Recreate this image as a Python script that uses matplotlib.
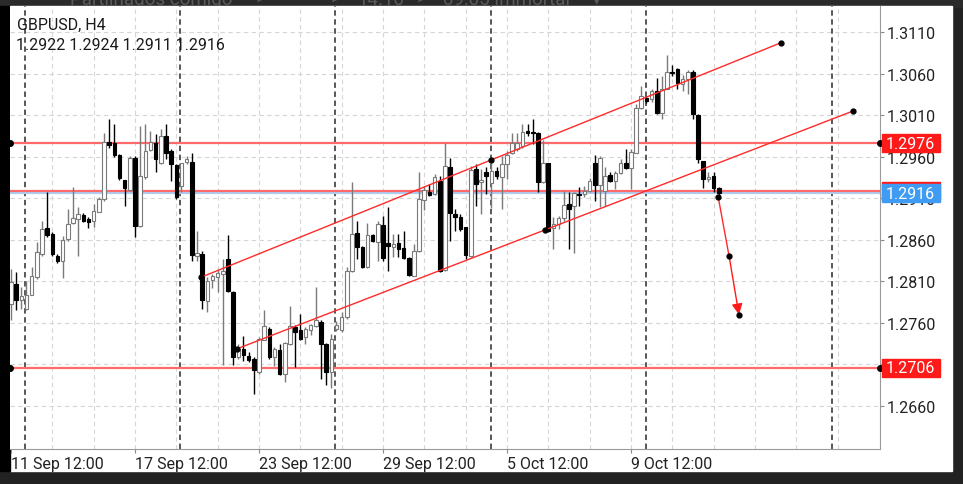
import matplotlib
matplotlib.use("Agg")
import matplotlib.pyplot as plt
import matplotlib.transforms as mtransforms
from matplotlib.patches import Rectangle

plt.rcParams['font.family'] = ['Roboto', 'DejaVu Sans']

# H4 candles (bar 0 = 11 Sep 12:00)
opens = [1.2783, 1.2807, 1.2787, 1.2777, 1.2794, 1.2815, 1.2843, 1.2874, 1.2867, 1.2841,
         1.2835, 1.2861, 1.2880, 1.2885, 1.2890, 1.2885, 1.2883, 1.2894, 1.2909, 1.2978,
         1.2976, 1.2962, 1.2932, 1.2920, 1.2959, 1.2877, 1.2935, 1.2968, 1.2977, 1.2953,
         1.2985, 1.2967, 1.2950, 1.2925, 1.2954, 1.2954, 1.2841, 1.2843, 1.2786, 1.2812,
         1.2815, 1.2819, 1.2837, 1.2797, 1.2719, 1.2729, 1.2720, 1.2716, 1.2701, 1.2740,
         1.2753, 1.2719, 1.2727, 1.2699, 1.2735, 1.2755, 1.2751, 1.2743, 1.2752, 1.2756,
         1.2761, 1.2735, 1.2701, 1.2753, 1.2751, 1.2767, 1.2823, 1.2868, 1.2851, 1.2827,
         1.2866, 1.2857, 1.2878, 1.2856, 1.2851, 1.2856, 1.2850, 1.2838, 1.2817, 1.2847,
         1.2908, 1.2917, 1.2915, 1.2931, 1.2824, 1.2948, 1.2891, 1.2888, 1.2875, 1.2841,
         1.2945, 1.2929, 1.2941, 1.2928, 1.2943, 1.2935, 1.2951, 1.2965, 1.2969, 1.2973,
         1.2991, 1.2990, 1.2989, 1.2930, 1.2953, 1.2874, 1.2879, 1.2886, 1.2903, 1.2901,
         1.2915, 1.2915, 1.2919, 1.2953, 1.2926, 1.2919, 1.2938, 1.2931, 1.2940, 1.2953,
         1.2946, 1.2965, 1.3018, 1.3031, 1.3029, 1.3039, 1.3013, 1.3042, 1.3062, 1.3066,
         1.3048, 1.3053, 1.3062, 1.3010, 1.2955, 1.2933, 1.2937, 1.2922]
highs = [1.2825, 1.2821, 1.2803, 1.2811, 1.2827, 1.2857, 1.2883, 1.2918, 1.2869, 1.2843,
         1.2865, 1.2897, 1.2924, 1.2899, 1.2892, 1.2888, 1.2903, 1.2912, 1.2988, 1.3005,
         1.2999, 1.2963, 1.2932, 1.2961, 1.2961, 1.2997, 1.2999, 1.2991, 1.2987, 1.2993,
         1.2999, 1.2969, 1.2951, 1.2953, 1.2961, 1.2965, 1.2871, 1.2847, 1.2815, 1.2819,
         1.2825, 1.2837, 1.2866, 1.2799, 1.2735, 1.2744, 1.2725, 1.2719, 1.2743, 1.2775,
         1.2755, 1.2731, 1.2735, 1.2737, 1.2780, 1.2757, 1.2771, 1.2755, 1.2759, 1.2803,
         1.2763, 1.2736, 1.2747, 1.2762, 1.2773, 1.2827, 1.2930, 1.2883, 1.2853, 1.2880,
         1.2867, 1.2883, 1.2889, 1.2899, 1.2867, 1.2867, 1.2871, 1.2839, 1.2855, 1.2942,
         1.2925, 1.2927, 1.2939, 1.2937, 1.2977, 1.2959, 1.2897, 1.2891, 1.2875, 1.2949,
         1.2951, 1.2945, 1.2947, 1.2957, 1.2947, 1.2961, 1.2967, 1.2989, 1.2989, 1.2999,
         1.2999, 1.3005, 1.2990, 1.2980, 1.2953, 1.2887, 1.2889, 1.2919, 1.2917, 1.2918,
         1.2923, 1.2925, 1.2934, 1.2962, 1.2961, 1.2947, 1.2941, 1.2943, 1.2957, 1.2969,
         1.2969, 1.3023, 1.3045, 1.3033, 1.3042, 1.3055, 1.3057, 1.3082, 1.3070, 1.3067,
         1.3058, 1.3064, 1.3064, 1.3011, 1.2955, 1.2941, 1.2941, 1.2924]
lows = [1.2763, 1.2775, 1.2777, 1.2775, 1.2793, 1.2813, 1.2841, 1.2863, 1.2841, 1.2832,
        1.2814, 1.2859, 1.2879, 1.2841, 1.2881, 1.2874, 1.2876, 1.2893, 1.2907, 1.2970,
        1.2960, 1.2932, 1.2901, 1.2919, 1.2863, 1.2875, 1.2933, 1.2967, 1.2941, 1.2951,
        1.2957, 1.2931, 1.2909, 1.2917, 1.2951, 1.2835, 1.2834, 1.2777, 1.2773, 1.2802,
        1.2797, 1.2709, 1.2797, 1.2709, 1.2716, 1.2714, 1.2713, 1.2675, 1.2699, 1.2739,
        1.2717, 1.2708, 1.2697, 1.2689, 1.2733, 1.2707, 1.2739, 1.2735, 1.2745, 1.2755,
        1.2692, 1.2685, 1.2682, 1.2750, 1.2749, 1.2765, 1.2821, 1.2837, 1.2826, 1.2826,
        1.2857, 1.2834, 1.2835, 1.2823, 1.2839, 1.2839, 1.2837, 1.2817, 1.2816, 1.2845,
        1.2896, 1.2913, 1.2914, 1.2821, 1.2822, 1.2859, 1.2871, 1.2871, 1.2837, 1.2839,
        1.2901, 1.2891, 1.2915, 1.2898, 1.2933, 1.2897, 1.2933, 1.2963, 1.2967, 1.2971,
        1.2985, 1.2975, 1.2917, 1.2928, 1.2869, 1.2849, 1.2873, 1.2883, 1.2849, 1.2844,
        1.2901, 1.2912, 1.2917, 1.2907, 1.2899, 1.2901, 1.2930, 1.2921, 1.2939, 1.2945,
        1.2921, 1.2964, 1.3017, 1.3025, 1.3026, 1.3011, 1.3005, 1.3041, 1.3057, 1.3041,
        1.3039, 1.3035, 1.3005, 1.2953, 1.2922, 1.2930, 1.2918, 1.2911]
closes = [1.2809, 1.2787, 1.2792, 1.2793, 1.2817, 1.2845, 1.2873, 1.2866, 1.2843, 1.2834,
          1.2860, 1.2879, 1.2886, 1.2891, 1.2883, 1.2882, 1.2895, 1.2909, 1.2978, 1.2974,
          1.2962, 1.2934, 1.2922, 1.2958, 1.2877, 1.2937, 1.2967, 1.2978, 1.2957, 1.2985,
          1.2965, 1.2951, 1.2911, 1.2952, 1.2957, 1.2842, 1.2844, 1.2787, 1.2811, 1.2816,
          1.2820, 1.2822, 1.2798, 1.2719, 1.2729, 1.2721, 1.2715, 1.2703, 1.2741, 1.2756,
          1.2719, 1.2729, 1.2699, 1.2736, 1.2756, 1.2749, 1.2741, 1.2753, 1.2757, 1.2763,
          1.2735, 1.2701, 1.2741, 1.2757, 1.2767, 1.2823, 1.2867, 1.2851, 1.2827, 1.2866,
          1.2859, 1.2879, 1.2838, 1.2852, 1.2855, 1.2849, 1.2838, 1.2818, 1.2846, 1.2909,
          1.2920, 1.2914, 1.2936, 1.2823, 1.2949, 1.2892, 1.2888, 1.2873, 1.2842, 1.2944,
          1.2927, 1.2932, 1.2937, 1.2943, 1.2937, 1.2951, 1.2962, 1.2977, 1.2977, 1.2990,
          1.2988, 1.2988, 1.2930, 1.2953, 1.2871, 1.2879, 1.2886, 1.2902, 1.2897, 1.2916,
          1.2914, 1.2919, 1.2931, 1.2926, 1.2959, 1.2937, 1.2931, 1.2940, 1.2952, 1.2946,
          1.2966, 1.3019, 1.3033, 1.3027, 1.3039, 1.3013, 1.3041, 1.3062, 1.3061, 1.3049,
          1.3054, 1.3062, 1.3011, 1.2957, 1.2933, 1.2936, 1.2922, 1.2916]

date_pos = [0, 24, 48, 72, 96, 120]
date_labels = ["11 Sep 12:00", "17 Sep 12:00", "23 Sep 12:00",
               "29 Sep 12:00", "5 Oct 12:00", "9 Oct 12:00"]
price_ticks = [1.3110, 1.3060, 1.3010, 1.2960, 1.2910, 1.2860, 1.2810, 1.2760, 1.2710, 1.2660]
week_seps = [2.7, 32.8, 62.7, 92.9, 122.9, 158.9]

# drawn objects
level_lines = [1.2976, 1.2919, 1.2706]   # red horizontal lines
level_dots = [1.2976, 1.2706]
bid = 1.2916
chan_upper = ([36.8, 149.0], [1.2815, 1.3097])
chan_lower = ([43.8, 163.0], [1.2729, 1.3015])
chan_dots_x = [36.8, 93.0, 149.0, 43.8, 103.3, 163.0]
chan_dots_y = [1.2815, 1.2956, 1.3097, 1.2729, 1.2872, 1.3015]
path_x = [136.9, 139.0, 140.9]
path_y = [1.2911, 1.2840, 1.2770]

W, H = 963, 485
fig = plt.figure(figsize=(W / 100, H / 100), dpi=100)
fig.patch.set_facecolor('#222222')

# background frame in pixel units
bg = fig.add_axes([0, 0, 1, 1], zorder=-1)
bg.set_xlim(0, W)
bg.set_ylim(H, 0)
bg.axis('off')
bg.add_patch(Rectangle((0, 0), W, 8, color='#2a2a2a', zorder=0))
# app toolbar behind the screenshot, only its lower edge shows
for tx, s in [(70, "Partilhados comigo"), (256, ">"), (286, "···"), (331, ">"),
              (357, "14.10"), (417, ">"), (443, "09:05 Immortal"), (592, "▾")]:
    bg.text(tx, 5, s, fontsize=13.5, color='#5a5a5a', va='baseline', zorder=1)
bg.add_patch(Rectangle((10, 7), 942, 465, color='white', zorder=2))
bg.add_patch(Rectangle((0, 7), 10, 465, color='black', zorder=2))

ax = fig.add_axes([10 / W, 35 / H, 870 / W, 443 / H])
ax.set_facecolor('white')
ymin, ymax = 1.26083, 1.31413
ax.set_xlim(-0.19, 168.2)
ax.set_ylim(ymin, ymax)

# grid
grid_kw = dict(color='#d6d6d6', lw=0.8, linestyles=(0, (4, 3)), zorder=0)
ax.vlines(range(8, 168, 8), ymin, ymax, **grid_kw)
ax.hlines(price_ticks, -0.19, 168.2, **grid_kw)
ax.vlines(week_seps, ymin, ymax, color='#4a4a4a', lw=1.3, linestyles=(0, (3, 2)), zorder=0.5)

# candles
bw = 0.7
for i in range(len(opens)):
    o, h, l, c = opens[i], highs[i], lows[i], closes[i]
    up = c >= o
    col = '#7a7a7a' if up else 'black'
    ax.vlines(i, l, h, color=col, lw=1, zorder=2)
    lo, hi = min(o, c), max(o, c)
    if hi - lo < 0.00008:
        hi = lo + 0.00008
    ax.bar(i, hi - lo, bw, bottom=lo, color='white' if up else 'black',
           edgecolor=col, lw=0.8, zorder=3)

# horizontal levels
ax.axhline(bid, color='#a9cff5', lw=1.6, zorder=1.5)
for lv in level_lines:
    ax.axhline(lv, color='#ff6a6a', lw=1.6, zorder=1.6)
for lv in level_dots:
    ax.plot([-0.19, 168.2], [lv, lv], 'o', color='black', ms=4, clip_on=False, zorder=6)

# trend channel
ax.plot(*chan_upper, color='#ff2a2a', lw=1, zorder=4)
ax.plot(*chan_lower, color='#ff2a2a', lw=1, zorder=4)
ax.plot(chan_dots_x, chan_dots_y, 'o', color='black', ms=3.5, zorder=5)

# projected path with arrow
ax.plot(path_x[:2], path_y[:2], color='#ff2a2a', lw=1, zorder=4)
ax.annotate('', xy=(path_x[2], path_y[2]), xytext=(path_x[1], path_y[1]),
            arrowprops=dict(arrowstyle='-|>', color='#ff1a1a', lw=1, mutation_scale=16,
                            shrinkA=0, shrinkB=0), zorder=4)
ax.plot(path_x, path_y, 'o', color='black', ms=3.5, zorder=5)

# axes cosmetics
for side in ['left', 'top']:
    ax.spines[side].set_visible(False)
for side in ['right', 'bottom']:
    ax.spines[side].set_color('#9a9a9a')
    ax.spines[side].set_linewidth(0.8)
ax.yaxis.tick_right()
ax.set_yticks(price_ticks)
ax.set_yticklabels(["%.4f" % p for p in price_ticks])
ax.set_xticks(date_pos)
ax.set_xticklabels(date_labels)
for lbl in ax.get_xticklabels():
    lbl.set_ha('left')
ax.tick_params(axis='both', length=3, width=0.8, color='#8a8a8a', labelsize=11.5,
               labelcolor='#222222', pad=2)

# price labels on the right scale (1.2919 label sits under the bid label)
px_unit = (ymax - ymin) / 443
blend = mtransforms.blended_transform_factory(bg.transData, ax.transData)
ax.add_patch(Rectangle((882, 1.2919 - 9 * px_unit), 58, 18 * px_unit, transform=blend,
                       color='#ff1a1a', clip_on=False, zorder=7))
for lv, colr in [(1.2976, '#ff1a1a'), (bid, '#3f9cf2'), (1.2706, '#ff1a1a')]:
    ax.add_patch(Rectangle((882, lv - 9 * px_unit), 58, 18 * px_unit, transform=blend,
                           color=colr, clip_on=False, zorder=8))
    ax.text(886, lv, "%.4f" % lv, transform=blend, color='white', fontsize=11.5,
            va='center', ha='left', clip_on=False, zorder=9)

# header
ax.text(17, 25, "GBPUSD, H4", transform=bg.transData, fontsize=11.5, color='#1a1a1a',
        va='center', zorder=9)
ax.text(16, 45, " ".join("%.4f" % v for v in [opens[-1], highs[-1], lows[-1], closes[-1]]),
        transform=bg.transData, fontsize=11.5, color='#1a1a1a', va='center', zorder=9)

fig.savefig('out.png', dpi=100, facecolor=fig.get_facecolor())
